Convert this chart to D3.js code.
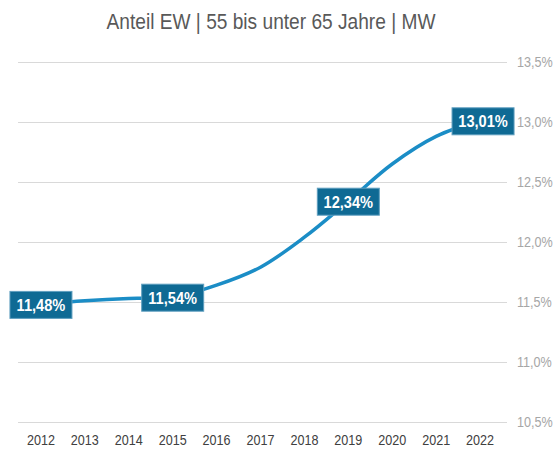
<!DOCTYPE html>
<html>
<head>
  <meta charset="utf-8">
  <title>Anteil EW 55 bis unter 65 Jahre</title>
  <script src="https://d3js.org/d3.v7.min.js"></script>
</head>
<style>
body {
  margin: 0;
  background-color: #fff;
  font-family: "Liberation Sans Narrow", "Arial Narrow", "Liberation Sans", sans-serif;
}
.grid line {
  stroke: #d9d9d9;
  stroke-width: 1px;
}
.ylabel {
  fill: #a6a6a6;
  font-size: 14px;
}
.xlabel {
  fill: #404040;
  font-size: 14px;
}
.title {
  fill: #595959;
  font-size: 22px;
}
.valbox {
  fill: #0f6a94;
  stroke: #5f9fbf;
  stroke-width: 1px;
}
.valtext {
  fill: #fff;
  font-size: 17px;
  font-weight: bold;
}
</style>
<body>
<div id="chart"></div>
<script>
// data
var years = [2012, 2013, 2014, 2015, 2016, 2017, 2018, 2019, 2020, 2021, 2022];
var values = [11.48, 11.51, 11.53, 11.54, 11.64, 11.79, 12.04, 12.34, 12.65, 12.88, 13.01];
var labelYears = [2012, 2015, 2019, 2022];
var yTicks = [10.5, 11.0, 11.5, 12.0, 12.5, 13.0, 13.5];
var title = "Anteil EW | 55 bis unter 65 Jahre | MW";

var width = 560,
    height = 450;

var svg = d3.select("#chart")
  .append("svg")
  .attr("width", width)
  .attr("height", height);

var x = d3.scaleLinear()
  .domain([2011.5, 2022.5])
  .range([19, 502]);

var y = d3.scaleLinear()
  .domain([10.5, 13.5])
  .range([422, 62]);

var fmt = function(v, digits) {
  return v.toFixed(digits).replace(".", ",") + "%";
};

// title (squeezed a bit, the original font is a narrow one)
svg.append("text")
  .attr("class", "title")
  .attr("transform", "translate(271,29) scale(0.87,1)")
  .attr("text-anchor", "middle")
  .text(title);

// gridlines
svg.append("g")
  .attr("class", "grid")
  .selectAll("line")
  .data(yTicks)
  .enter()
  .append("line")
  .attr("x1", 18)
  .attr("x2", 507)
  .attr("y1", function(d) { return Math.round(y(d)) + 0.5; })
  .attr("y2", function(d) { return Math.round(y(d)) + 0.5; });

// y labels on the right
svg.selectAll(".ylabel")
  .data(yTicks)
  .enter()
  .append("text")
  .attr("class", "ylabel")
  .attr("transform", function(d) { return "translate(517," + (y(d) + 5) + ") scale(0.9,1)"; })
  .text(function(d) { return fmt(d, 1); });

// x labels
svg.selectAll(".xlabel")
  .data(years)
  .enter()
  .append("text")
  .attr("class", "xlabel")
  .attr("transform", function(d) { return "translate(" + x(d) + ",445) scale(0.9,1)"; })
  .attr("text-anchor", "middle")
  .text(function(d) { return d; });

// line
var line = d3.line()
  .x(function(d, i) { return x(years[i]); })
  .y(function(d) { return y(d); })
  .curve(d3.curveCatmullRom);

svg.append("path")
  .datum(values)
  .attr("fill", "none")
  .attr("stroke", "#1b8dc6")
  .attr("stroke-width", 3.5)
  .attr("d", line);

// value boxes
var labels = svg.selectAll(".val")
  .data(labelYears)
  .enter()
  .append("g")
  .attr("class", "val")
  .attr("transform", function(d) {
    var v = values[years.indexOf(d)];
    var cx = x(d) + (d === 2022 ? 3 : 0);
    return "translate(" + cx + "," + y(v) + ")";
  });

labels.append("rect")
  .attr("class", "valbox")
  .attr("x", -31)
  .attr("y", -13)
  .attr("width", 62)
  .attr("height", 27);

labels.append("text")
  .attr("class", "valtext")
  .attr("text-anchor", "middle")
  .attr("transform", "translate(0,6.5) scale(0.86,1)")
  .text(function(d) { return fmt(values[years.indexOf(d)], 2); });
</script>
</body>
</html>
